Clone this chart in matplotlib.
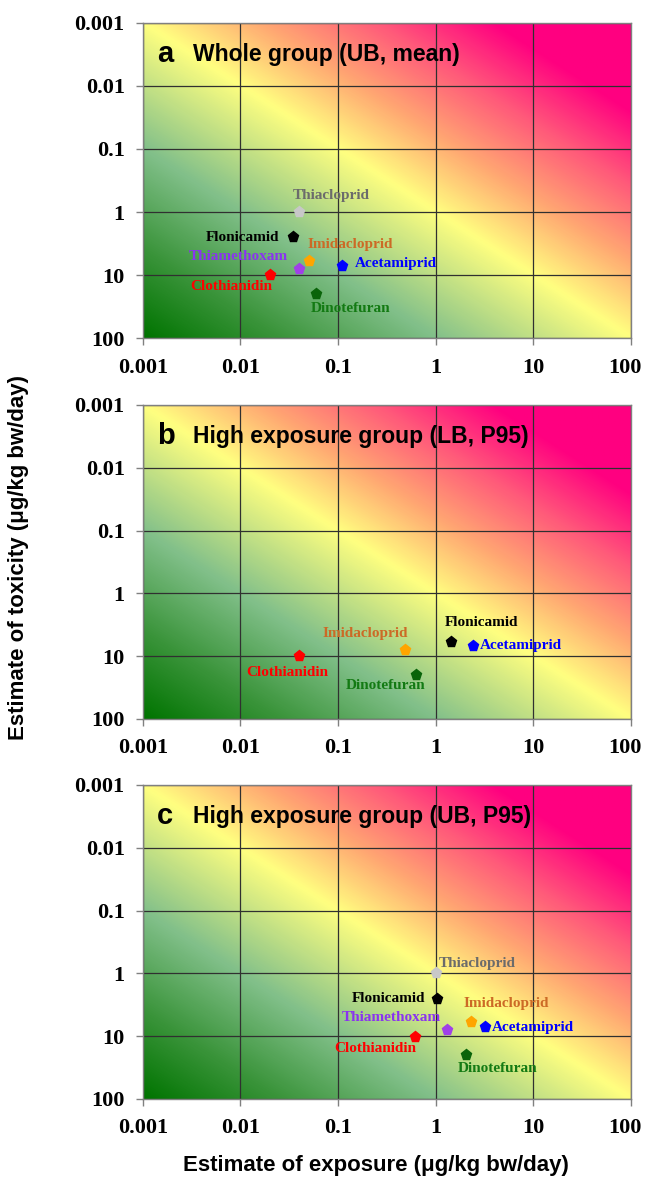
import numpy as np
import matplotlib
matplotlib.use("Agg")
import matplotlib.pyplot as plt
from matplotlib.colors import LinearSegmentedColormap
from matplotlib.ticker import NullLocator, FixedLocator, FixedFormatter
from matplotlib.transforms import ScaledTranslation

# ---------------- data ----------------
tick_values = [0.001, 0.01, 0.1, 1, 10, 100]
tick_labels = ["0.001", "0.01", "0.1", "1", "10", "100"]

panel_letters = ["a", "b", "c"]
panel_titles = ["Whole group (UB, mean)",
                "High exposure group (LB, P95)",
                "High exposure group (UB, P95)"]

a_names = ["Thiacloprid", "Flonicamid", "Imidacloprid", "Thiamethoxam",
           "Acetamiprid", "Clothianidin", "Dinotefuran"]
a_exposure = [0.04, 0.035, 0.05, 0.04, 0.11, 0.02, 0.06]
a_toxicity = [1.0, 2.5, 6.0, 8.0, 7.1, 10.0, 20.0]

b_names = ["Flonicamid", "Imidacloprid", "Acetamiprid", "Clothianidin", "Dinotefuran"]
b_exposure = [1.42, 0.48, 2.4, 0.04, 0.63]
b_toxicity = [6.0, 8.0, 7.0, 10.0, 20.0]

c_names = ["Thiacloprid", "Flonicamid", "Imidacloprid", "Thiamethoxam",
           "Acetamiprid", "Clothianidin", "Dinotefuran"]
c_exposure = [1.0, 1.03, 2.3, 1.3, 3.2, 0.62, 2.05]
c_toxicity = [1.0, 2.55, 6.0, 8.1, 7.2, 10.3, 20.0]

# ---------------- styles ----------------
label_colors = {"Thiacloprid": "#6b6b6b", "Flonicamid": "#000000",
                "Imidacloprid": "#cc6a26", "Thiamethoxam": "#8a33f0",
                "Acetamiprid": "#0000ff", "Clothianidin": "#ff0000",
                "Dinotefuran": "#137a13"}
marker_colors = {"Thiacloprid": "#c8c8c8", "Flonicamid": "#000000",
                 "Imidacloprid": "#ffa500", "Thiamethoxam": "#a040e8",
                 "Acetamiprid": "#0000ff", "Clothianidin": "#ff0000",
                 "Dinotefuran": "#0a640a"}

# label offsets (pixels) and alignment per panel
offsets = [
    {"Thiacloprid": (32, 17, "center"), "Flonicamid": (-14, 0, "right"),
     "Imidacloprid": (-1, 17, "left"), "Thiamethoxam": (-11, 13, "right"),
     "Acetamiprid": (13, 2, "left"), "Clothianidin": (2, -11, "right"),
     "Dinotefuran": (-6, -14, "left")},
    {"Flonicamid": (-6, 20, "left"), "Imidacloprid": (-39, 17, "center"),
     "Acetamiprid": (7, 1, "left"), "Clothianidin": (-12, -16, "center"),
     "Dinotefuran": (-30, -10, "center")},
    {"Thiacloprid": (3, 10, "left"), "Flonicamid": (-12, 0, "right"),
     "Imidacloprid": (-7, 19, "left"), "Thiamethoxam": (-6, 13, "right"),
     "Acetamiprid": (7, 0, "left"), "Clothianidin": (1, -11, "right"),
     "Dinotefuran": (-8, -13, "left")},
]

panels = [(a_names, a_exposure, a_toxicity),
          (b_names, b_exposure, b_toxicity),
          (c_names, c_exposure, c_toxicity)]

W, H = 645, 1180
left_px, right_px = 142.7, 631.0
panel_px = [(22.7, 338.3), (405.0, 719.0), (785.0, 1099.0)]

cmap = LinearSegmentedColormap.from_list("risk", [
    (0.00, "#007400"), (0.14, "#3a943a"), (0.30, "#82c08a"),
    (0.50, "#ffff80"), (0.62, "#ffa872"), (0.74, "#ff5a7a"),
    (0.86, "#ff0080"), (1.00, "#ff0080")])

n = 400
u = np.linspace(0, 1, n)
v = np.linspace(0, 1, n)
U, V = np.meshgrid(u, v)
grad = (U + V) / 2.0

serif = "Liberation Serif"
sans = "Liberation Sans"

fig = plt.figure(figsize=(W / 100, H / 100), dpi=100)

for i, (names, xs, ys) in enumerate(panels):
    top, bot = panel_px[i]
    rect = [left_px / W, 1 - bot / H, (right_px - left_px) / W, (bot - top) / H]
    bg = fig.add_axes(rect, zorder=0)
    bg.imshow(grad, cmap=cmap, vmin=0, vmax=1, origin="lower",
              extent=[0, 1, 0, 1], aspect="auto", interpolation="bilinear")
    bg.axis("off")

    ax = fig.add_axes(rect, zorder=1)
    ax.patch.set_alpha(0)
    ax.set_xscale("log")
    ax.set_yscale("log")
    ax.set_xlim(1e-3, 1e2)
    ax.set_ylim(1e2, 1e-3)
    for axis in (ax.xaxis, ax.yaxis):
        axis.set_major_locator(FixedLocator(tick_values))
        axis.set_major_formatter(FixedFormatter(tick_labels))
        axis.set_minor_locator(NullLocator())
    ax.grid(True, color="#303030", lw=0.9)
    ax.set_axisbelow(True)
    for s in ax.spines.values():
        s.set_color("#808080")
        s.set_linewidth(1.0)
    ax.tick_params(axis="both", length=5, width=1, color="#808080")
    ax.tick_params(axis="x", pad=9)
    ax.tick_params(axis="y", pad=8)
    xlabs = ax.get_xticklabels()
    for lab in xlabs + ax.get_yticklabels():
        lab.set_fontfamily(serif)
        lab.set_fontweight("bold")
        lab.set_fontsize(16)
    last = xlabs[-1]
    last.set_transform(last.get_transform() +
                       ScaledTranslation(-6 / 100, 0, fig.dpi_scale_trans))

    ax.text(0.029, 0.90, panel_letters[i], transform=ax.transAxes,
            fontfamily=sans, fontweight="bold", fontsize=21, va="center", ha="left")
    ax.text(0.103, 0.90, panel_titles[i], transform=ax.transAxes,
            fontfamily=sans, fontweight="bold", fontsize=16.5, va="center", ha="left")

    for name, x, y in zip(names, xs, ys):
        ax.plot([x], [y], marker="p", ms=8, color=marker_colors[name],
                mec=marker_colors[name], ls="none", zorder=3)
        dx, dy, ha = offsets[i][name]
        ax.annotate(name, (x, y), xytext=(dx, dy), textcoords="offset pixels",
                    ha=ha, va="center", fontfamily=serif, fontweight="bold",
                    fontsize=11, color=label_colors[name], zorder=4)

fig.text(376 / W, 1 - 1165 / H, "Estimate of exposure (\u03bcg/kg bw/day)",
         fontfamily=sans, fontweight="bold", fontsize=16, ha="center", va="center")
fig.text(19 / W, 1 - 558 / H, "Estimate of toxicity (\u03bcg/kg bw/day)",
         fontfamily=sans, fontweight="bold", fontsize=16, ha="center", va="center",
         rotation=90)

fig.savefig("out.png", dpi=100)
